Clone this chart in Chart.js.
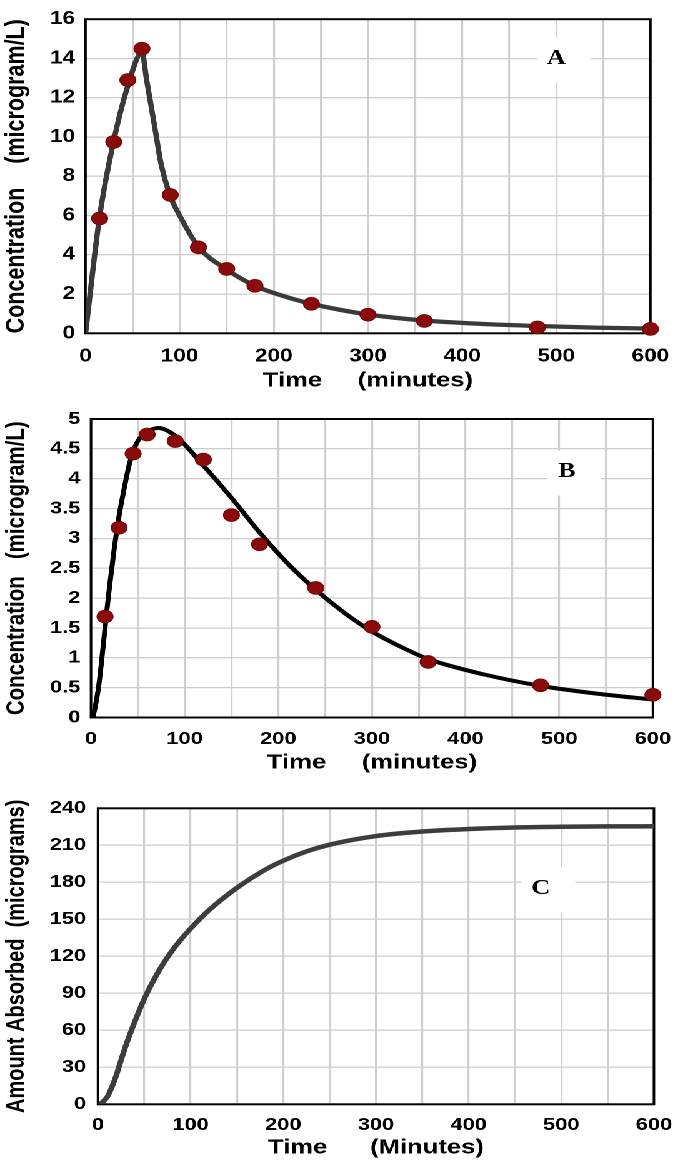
<!DOCTYPE html>
<html><head><meta charset="utf-8">
<script src="https://cdn.jsdelivr.net/npm/chart.js@4"></script>
<style>
html,body{margin:0;padding:0;background:#fff;}
body{width:685px;height:1164px;overflow:hidden;position:relative;}
#wrap{position:absolute;left:0;top:0;width:548px;height:1164px;transform:scaleX(1.25);transform-origin:0 0;}
.box{position:absolute;left:0;width:548px;}
</style></head><body>
<div id="wrap">
<div class="box" style="top:0;height:400px"><canvas id="cA"></canvas></div>
<div class="box" style="top:400px;height:385px"><canvas id="cB"></canvas></div>
<div class="box" style="top:785px;height:379px"><canvas id="cC"></canvas></div>
</div>
<script>
// ---------- Panel A ----------
const obsTimeA = [15,30,45,60,90,120,150,180,240,300,360,480,600];
const obsConcA = [5.85,9.75,12.9,14.5,7.05,4.38,3.28,2.42,1.5,0.95,0.63,0.3,0.22];
const fitTimeA = [0,15,30,45,60,65,70,75,80,90,100,120,150,180,210,240,270,300,360,420,480,540,600];
const fitConcA = [0,5.95,9.8,12.6,14.3,12.9,11.5,10.1,8.7,7.0,6.0,4.4,3.25,2.42,1.9,1.5,1.2,0.96,0.65,0.48,0.37,0.29,0.24];
const yTicksA = [0,2,4,6,8,10,12,14,16];
const yLabelsA = ['0','2','4','6','8','10','12','14','16'];

// ---------- Panel B ----------
const obsTimeB = [15,30,45,60,90,120,150,180,240,300,360,480,600];
const obsConcB = [1.69,3.18,4.42,4.74,4.63,4.32,3.39,2.9,2.17,1.52,0.93,0.54,0.38];
const fitTimeB = [2,5,8,11,14,17,20,25,30,35,40,45,50,55,60,72,90,120,150,180,210,240,270,300,330,360,420,480,540,600];
const fitConcB = [0,0.22,0.5,0.9,1.35,1.8,2.22,2.85,3.38,3.8,4.18,4.46,4.63,4.73,4.79,4.85,4.72,4.22,3.68,3.1,2.58,2.14,1.76,1.44,1.19,0.98,0.72,0.53,0.4,0.3];
const yTicksB = [0,0.5,1,1.5,2,2.5,3,3.5,4,4.5,5];
const yLabelsB = ['0','0.5','1','1.5','2','2.5','3','3.5','4','4.5','5'];

// ---------- Panel C ----------
const timeC = [2,10,15,20,25,30,40,50,60,70,80,90,100,120,150,180,200,225,250,300,350,400,450,500,550,600];
const amountC = [0,6,14,24,36,47.5,67.5,85.5,100.5,113.5,124.5,134,142.5,157.5,175.5,190,197.5,205,210.5,217.5,221.2,223.2,224.4,225,225.3,225.4];
const yTicksC = [0,30,60,90,120,150,180,210,240];
const yLabelsC = ['0','30','60','90','120','150','180','210','240'];

// ---------- shared x axis ----------
const xGrid = [0,50,100,150,200,250,300,350,400,450,500,550,600];
const xLabels = [0,100,200,300,400,500,600];

const panelLetters = ['A','B','C'];
const letterX = [500,508,478];
const letterY = [14,4.12,175];

const SANS = '"Liberation Sans", Arial, Helvetica, sans-serif';

function pts(xs, ys){ return xs.map((x,i)=>({x:x, y:ys[i]})); }

const framePlugin = {
  id:'frame',
  beforeDatasetsDraw(chart, args, opts){
    const ctx = chart.ctx, a = chart.chartArea;
    const L = opts.label;
    if (L){
      const px = chart.scales.x.getPixelForValue(L.x);
      const py = chart.scales.y.getPixelForValue(L.y);
      ctx.save();
      ctx.fillStyle = '#fff';
      ctx.fillRect(px - 15.5, py - 21, 43, 45);
      ctx.font = 'bold 21px "Liberation Serif", "Times New Roman", serif';
      ctx.fillStyle = '#000';
      ctx.textAlign = 'center';
      ctx.textBaseline = 'middle';
      ctx.fillText(L.text, px, py);
      ctx.restore();
    }
    ctx.save();
    ctx.strokeStyle = '#000';
    ctx.lineWidth = 2;
    ctx.strokeRect(a.left, a.top, a.right - a.left, a.bottom - a.top);
    ctx.restore();
  }
};

function makeChart(id, p){
  new Chart(document.getElementById(id), {
    type:'scatter',
    data:{ datasets:[
      p.obs ? {
        data: p.obs, showLine:false, pointRadius:6.3, pointHoverRadius:6.3,
        pointBackgroundColor:'#8a0b0b', pointBorderColor:'#780606', pointBorderWidth:1, clip:false
      } : null,
      {
        data: p.fit, showLine:true, type:'line', borderColor:p.lineColor, borderWidth:p.lineWidth,
        pointRadius:0, cubicInterpolationMode:'monotone', fill:false
      }
    ].filter(Boolean)},
    options:{
      responsive:true, maintainAspectRatio:false, animation:false, devicePixelRatio:2,
      events:[],
      layout:{ padding:{ top:p.padTop, left:0, right:p.padRight, bottom:0 } },
      plugins:{ legend:{display:false}, tooltip:{enabled:false}, frame:{ label:p.label } },
      scales:{
        x:{
          type:'linear', min:0, max:600,
          afterBuildTicks: s => { s.ticks = xGrid.map(v=>({value:v})); },
          afterFit: s => { s.height = p.xH; },
          grid:{ color:'#d0d0d0', lineWidth:1.6, drawTicks:false },
          border:{ display:false },
          ticks:{ autoSkip:false, maxRotation:0, padding:p.xTickPad, color:'#000',
            font:{ family:SANS, weight:'bold', size:p.tickSize },
            callback: v => xLabels.includes(v) ? String(v) : '' },
          title:{ display:true, text:p.xTitle, color:'#000',
            font:{ family:SANS, weight:'bold', size:20.5 }, padding:{ top:0, bottom:p.xTitlePad } }
        },
        y:{
          type:'linear', min:0, max:p.yTicks[p.yTicks.length-1],
          afterBuildTicks: s => { s.ticks = p.yTicks.map(v=>({value:v})); },
          afterFit: s => { s.width = p.yW; },
          grid:{ color:'#cccccc', lineWidth:1.2, drawTicks:false },
          border:{ display:false },
          ticks:{ padding:p.yTickPad, color:'#000',
            font:{ family:SANS, weight:'bold', size:p.tickSize },
            callback: v => { const i = p.yTicks.indexOf(v); return i >= 0 ? p.yLabels[i] : ''; } },
          title:{ display:true, text:p.yTitle, color:'#000',
            font:{ family:SANS, weight:'bold', size:p.yTitleSize }, padding:{ top:p.yTitlePad, bottom:0 } }
        }
      }
    },
    plugins:[framePlugin]
  });
}

makeChart('cA', {
  obs: pts(obsTimeA, obsConcA), fit: pts(fitTimeA, fitConcA),
  lineColor:'#3a3a3a', lineWidth:4.3,
  yTicks:yTicksA, yLabels:yLabelsA,
  padTop:12.3, padRight:22, yW:68.4, xH:66.7,
  xTickPad:12.6, yTickPad:8.4, tickSize:18,
  xTitle:'Time     (minutes)', xTitlePad:6.7,
  yTitle:'Concentration    (microgram/L)', yTitleSize:21.5, yTitlePad:0,
  label:{ text:panelLetters[0], x:letterX[0], y:letterY[0] }
});

makeChart('cB', {
  obs: pts(obsTimeB, obsConcB), fit: pts(fitTimeB, fitConcB),
  lineColor:'#000000', lineWidth:4,
  yTicks:yTicksB, yLabels:yLabelsB,
  padTop:16, padRight:22.4, yW:72.8, xH:67.5,
  xTickPad:11, yTickPad:8.5, tickSize:17.5,
  xTitle:'Time     (minutes)', xTitlePad:9.7,
  yTitle:'Concentration   (microgram/L)', yTitleSize:20.5, yTitlePad:1,
  label:{ text:panelLetters[1], x:letterX[1], y:letterY[1] }
});

makeChart('cC', {
  obs: null, fit: pts(timeC, amountC),
  lineColor:'#3d3d3d', lineWidth:4.5,
  yTicks:yTicksC, yLabels:yLabelsC,
  padTop:23.3, padRight:22.4, yW:78.4, xH:59.7,
  xTickPad:10.2, yTickPad:9.5, tickSize:17.5,
  xTitle:'Time      (Minutes)', xTitlePad:3.7,
  yTitle:'Amount Absorbed  (micrograms)', yTitleSize:20, yTitlePad:1.6,
  label:{ text:panelLetters[2], x:letterX[2], y:letterY[2] }
});
</script>
</body></html>
